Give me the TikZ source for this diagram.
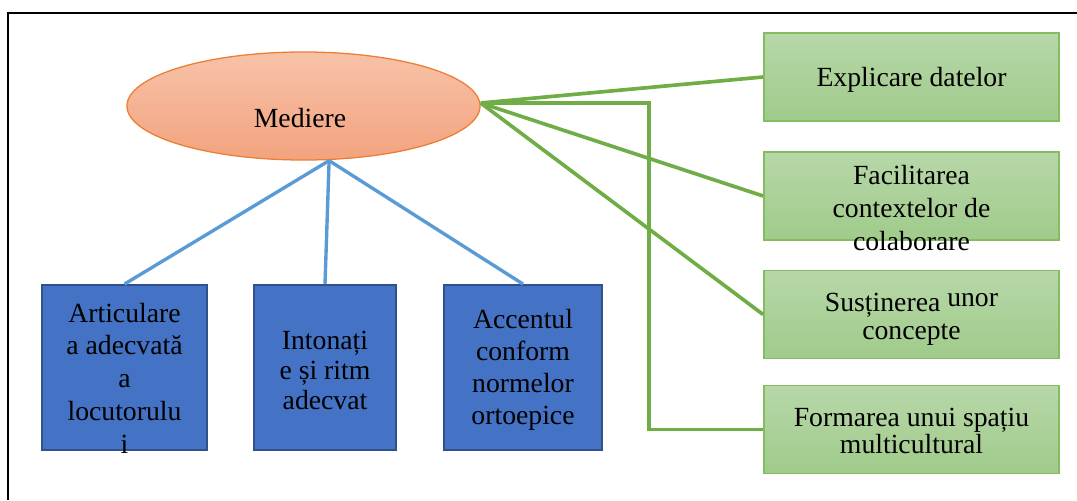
\documentclass[tikz,border=0pt]{standalone}
\usepackage{fontspec}
\setmainfont{Liberation Serif}
\usetikzlibrary{shapes.geometric}
\definecolor{ortop}{HTML}{F7C2A8}
\definecolor{orbot}{HTML}{F3A37E}
\definecolor{oredge}{HTML}{ED7D31}
\definecolor{bfill}{HTML}{4472C4}
\definecolor{bedge}{HTML}{2F528F}
\definecolor{gtop}{HTML}{B7D7A8}
\definecolor{gbot}{HTML}{A0CB8B}
\definecolor{gedge}{HTML}{85BC62}
\definecolor{glinecol}{HTML}{70AD47}
\definecolor{blinecol}{HTML}{5B9BD5}
\begin{document}
\begin{tikzpicture}[x=0.025cm,y=-0.025cm,
	bline/.style={draw=blinecol,line width=2.4pt},
	gline/.style={draw=glinecol,line width=2.6pt},
	bbox/.style={draw=bedge,line width=1.3pt,fill=bfill,minimum height=4.125cm,inner sep=0pt},
	gbox/.style={draw=gedge,line width=1.2pt,top color=gtop,bottom color=gbot,minimum width=7.375cm,minimum height=2.2cm,inner sep=0pt},
	txt/.style={align=center,inner sep=0pt,font=\fontsize{19.7}{23.3}\selectfont}]
			\useasboundingbox (0,0) rectangle (1077,500);
			\draw[line width=1.2pt] (8,500) -- (8,13) -- (1077,13);
			\node[ellipse,draw=oredge,line width=0.9pt,top color=ortop,bottom color=orbot,minimum width=8.825cm,minimum height=2.7cm,inner sep=0pt] (med) at (303.5,106) {};
			\node[bbox,minimum width=4.125cm] (art) at (124.5,367.5) {};
			\node[bbox,minimum width=3.55cm] (into) at (325,367.5) {};
			\node[bbox,minimum width=3.95cm] (acc) at (523,367.5) {};
			\node[gbox] (expl) at (911.5,77) {};
			\node[gbox] (fac) at (911.5,196) {};
			\node[gbox] (sus) at (911.5,314.5) {};
			\node[gbox] (form) at (911.5,429.5) {};
			\coordinate (hub) at ([xshift=0.64cm]med.south);
			\coordinate (fan) at ([yshift=0.075cm]med.east);
			\foreach \b in {art,into,acc}
			\draw[bline] (hub) -- (\b.north);
			\foreach \g in {expl,fac,sus}
			\draw[gline] (fan) -- (\g.west);
			\draw[gline] (fan) -- ++(168,0) |- (form.west);
			\node[txt] (medtxt) at (300,118.5) {Mediere};
			\node[txt] (arttxt) at (124.5,378) {Articulare\\a adecvată\\a\\locutorulu\\i};
			\node[txt,font=\fontsize{19.7}{21.3}\selectfont] (intotxt) at (325,370.5) {Intonați\\e și ritm\\adecvat};
			\node[txt,font=\fontsize{19.7}{22.8}\selectfont] (acctxt) at (523,370) {Accentul\\conform\\normelor\\ortoepice};
			\node[txt] (expltxt) at (911.5,80) {Explicare datelor};
			\node[txt] (factxt) at (911.5,208) {Facilitarea\\contextelor de\\colaborare};
			\node[txt,font=\fontsize{19.7}{19.9}\selectfont] (sustxt) at (911.5,319.5) {Susținerea \raisebox{3.6pt}{unor}\\concepte};
			\node[txt,font=\fontsize{19.7}{19.2}\selectfont] (formtxt) at (911.5,431) {Formarea unui spațiu\\multicultural};
		\end{tikzpicture}
\end{document}
